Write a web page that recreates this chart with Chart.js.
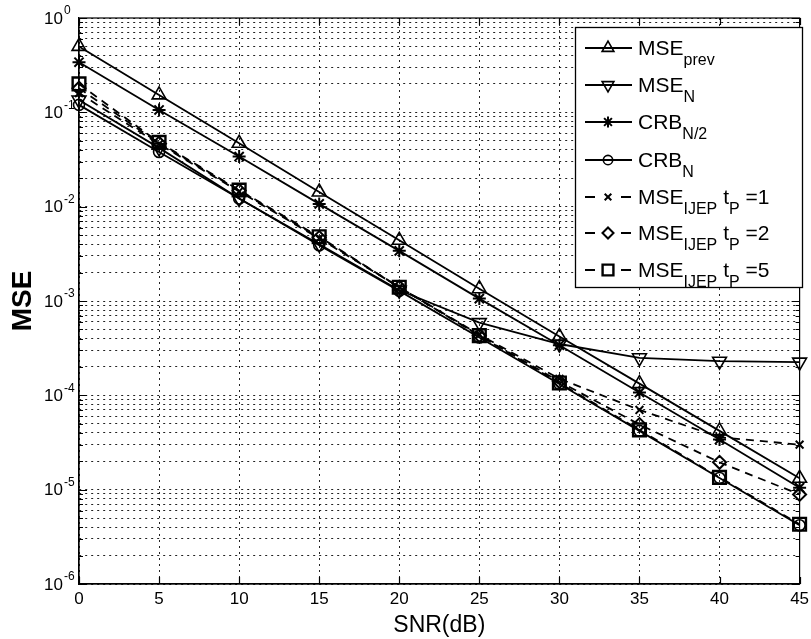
<!DOCTYPE html>
<html>
<head>
<meta charset="utf-8">
<script src="https://cdn.jsdelivr.net/npm/chart.js@4.4.0/dist/chart.umd.min.js"></script>
<style>
  html, body { margin: 0; padding: 0; background: #fff; }
  #wrap { width: 811px; height: 639px; }
</style>
</head>
<body>
<div id="wrap"><canvas id="mseChart" width="811" height="639"></canvas></div>
<script>
'use strict';

// SNR axis (dB)
const snr = [0, 5, 10, 15, 20, 25, 30, 35, 40, 45];

// Series values
const msePrev = [0.5, 0.153, 0.047, 0.0143, 0.0044, 0.00135, 4.2e-4, 1.33e-4, 4.2e-5, 1.32e-5];
const mseN = [0.135, 0.042, 0.0122, 0.0040, 0.0013, 5.9e-4, 3.5e-4, 2.5e-4, 2.3e-4, 2.25e-4];
const crbHalf = [0.34, 0.106, 0.034, 0.0107, 0.0034, 0.00106, 3.4e-4, 1.07e-4, 3.4e-5, 1.05e-5];
const crbN = [0.12, 0.038, 0.0122, 0.0039, 0.00128, 4.1e-4, 1.32e-4, 4.2e-5, 1.33e-5, 4.2e-6];
const ijep1 = [0.16, 0.046, 0.0145, 0.0046, 0.0014, 4.4e-4, 1.5e-4, 7.0e-5, 3.6e-5, 3.0e-5];
const ijep2 = [0.18, 0.047, 0.0148, 0.0047, 0.0014, 4.3e-4, 1.4e-4, 4.9e-5, 1.95e-5, 8.9e-6];
const ijep5 = [0.2, 0.048, 0.015, 0.0048, 0.0014, 4.3e-4, 1.35e-4, 4.3e-5, 1.35e-5, 4.3e-6];

// Tick labels
const xTicks = [0, 5, 10, 15, 20, 25, 30, 35, 40, 45];
const yDecades = [-6, -5, -4, -3, -2, -1, 0];
const yMinor = [2, 3, 4, 5, 6, 7, 8, 9];

const FONT = 'Liberation Sans, Arial, Helvetica, sans-serif';

// Legend rows: text pieces (sub = subscript)
const legendRows = [
  [{t: 'MSE'}, {t: 'prev', sub: true}],
  [{t: 'MSE'}, {t: 'N', sub: true}],
  [{t: 'CRB'}, {t: 'N/2', sub: true}],
  [{t: 'CRB'}, {t: 'N', sub: true}],
  [{t: 'MSE'}, {t: 'IJEP', sub: true}, {t: ' t'}, {t: 'P', sub: true}, {t: ' =1'}],
  [{t: 'MSE'}, {t: 'IJEP', sub: true}, {t: ' t'}, {t: 'P', sub: true}, {t: ' =2'}],
  [{t: 'MSE'}, {t: 'IJEP', sub: true}, {t: ' t'}, {t: 'P', sub: true}, {t: ' =5'}]
];

function series(values, style) {
  return Object.assign({
    data: snr.map((x, i) => ({x: x, y: values[i]})),
    borderColor: '#000',
    borderWidth: 1.8,
    pointBorderColor: '#000',
    pointBackgroundColor: 'rgba(0,0,0,0)',
    pointBorderWidth: 1.6,
    clip: false,
    tension: 0
  }, style);
}

const datasets = [
  series(msePrev, {pointStyle: 'triangle', pointRadius: 8}),
  series(mseN, {pointStyle: 'triangle', pointRotation: 180, pointRadius: 8}),
  series(crbHalf, {pointStyle: 'star', pointRadius: 6.5, pointBorderWidth: 2}),
  series(crbN, {pointStyle: 'circle', pointRadius: 5.5}),
  series(ijep1, {borderDash: [8, 6], pointStyle: 'crossRot', pointRadius: 5.5, pointBorderWidth: 2}),
  series(ijep2, {borderDash: [8, 6], pointStyle: 'rectRot', pointRadius: 6.5, pointBorderWidth: 2}),
  series(ijep5, {borderDash: [8, 6], pointStyle: 'rect', pointRadius: 9, pointBorderWidth: 2.4})
];
// MATLAB draws later series on top
datasets.forEach((d, i) => { d.order = datasets.length - i; });

function drawRichText(ctx, parts, x, y) {
  let cx = x;
  parts.forEach(p => {
    ctx.font = (p.sub ? '16px ' : '21px ') + FONT;
    ctx.fillText(p.t, cx, p.sub ? y + 10 : y);
    cx += ctx.measureText(p.t).width;
  });
}

const decorPlugin = {
  id: 'decor',
  afterDraw: function(chart) {
    const ctx = chart.ctx;
    const area = chart.chartArea;
    const xs = chart.scales.x;
    const ys = chart.scales.y;

    ctx.save();
    ctx.strokeStyle = '#000';
    ctx.lineWidth = 1.2;
    ctx.setLineDash([]);

    // Inner tick marks
    ctx.beginPath();
    ys.ticks.forEach(t => {
      const y = Math.round(ys.getPixelForValue(t.value)) + 0.5;
      const len = t.major ? 8 : 4;
      ctx.moveTo(area.left, y); ctx.lineTo(area.left + len, y);
      ctx.moveTo(area.right, y); ctx.lineTo(area.right - len, y);
    });
    xTicks.forEach(v => {
      const x = Math.round(xs.getPixelForValue(v)) + 0.5;
      ctx.moveTo(x, area.bottom); ctx.lineTo(x, area.bottom - 7);
      ctx.moveTo(x, area.top); ctx.lineTo(x, area.top + 7);
    });
    ctx.stroke();

    // Frame
    ctx.strokeRect(area.left, area.top, area.right - area.left, area.bottom - area.top);

    // Y tick labels 10^k
    ctx.fillStyle = '#000';
    yDecades.forEach(k => {
      const y = ys.getPixelForValue(Math.pow(10, k));
      ctx.font = '17px ' + FONT;
      ctx.textAlign = 'right';
      ctx.textBaseline = 'middle';
      ctx.fillText('10', 63, y + 1);
      ctx.font = '12px ' + FONT;
      ctx.textAlign = 'left';
      ctx.fillText(k === 0 ? '0' : '-' + Math.abs(k), 64, y - 7);
    });

    // Legend box
    const box = {left: 575, top: 27, right: 802, bottom: 287};
    ctx.fillStyle = '#fff';
    ctx.fillRect(box.left, box.top, box.right - box.left, box.bottom - box.top);
    ctx.lineWidth = 1.3;
    ctx.strokeRect(box.left + 0.5, box.top + 0.5, box.right - box.left, box.bottom - box.top);

    const rowY = [48, 85, 122, 160, 197, 233, 270];
    legendRows.forEach((parts, i) => {
      const ds = datasets[i];
      const y = rowY[i];
      ctx.strokeStyle = '#000';
      ctx.lineWidth = 1.8;
      ctx.setLineDash(ds.borderDash ? [10, 26] : []);
      ctx.beginPath();
      ctx.moveTo(585, y); ctx.lineTo(632, y);
      ctx.stroke();
      ctx.setLineDash([]);
      ctx.fillStyle = 'rgba(0,0,0,0)';
      ctx.lineWidth = ds.pointBorderWidth;
      Chart.helpers.drawPoint(ctx, {
        pointStyle: ds.pointStyle,
        rotation: ds.pointRotation || 0,
        radius: ds.pointRadius * 0.85,
        borderWidth: ds.pointBorderWidth
      }, 608, y);
      ctx.fillStyle = '#000';
      ctx.textAlign = 'left';
      ctx.textBaseline = 'alphabetic';
      drawRichText(ctx, parts, 638, y + 7);
    });
    ctx.restore();
  }
};

const gridStyle = {color: '#222', lineWidth: 1, drawTicks: false};

new Chart(document.getElementById('mseChart').getContext('2d'), {
  type: 'line',
  data: {datasets: datasets},
  plugins: [decorPlugin],
  options: {
    responsive: false,
    animation: false,
    layout: {padding: {top: 18, right: 3, left: 0, bottom: 0}},
    plugins: {
      legend: {display: false},
      tooltip: {enabled: false}
    },
    scales: {
      x: {
        type: 'linear',
        min: 0,
        max: 45,
        afterBuildTicks: function(scale) {
          scale.ticks = xTicks.map(v => ({value: v}));
        },
        afterFit: function(scale) {
          scale.height = 55;
          scale.paddingLeft = 0;
          scale.paddingRight = 0;
        },
        grid: gridStyle,
        border: {display: true, color: '#000', width: 1.2, dash: [2, 4]},
        ticks: {
          color: '#000',
          font: {family: FONT, size: 17},
          padding: 5,
          maxRotation: 0,
          autoSkip: false
        },
        title: {
          display: true,
          text: 'SNR(dB)',
          color: '#000',
          font: {family: FONT, size: 23},
          padding: {top: 0, bottom: 0}
        }
      },
      y: {
        type: 'logarithmic',
        min: 1e-6,
        max: 1,
        afterBuildTicks: function(scale) {
          const ticks = [];
          yDecades.forEach(k => {
            ticks.push({value: Math.pow(10, k), major: true});
            if (k < 0) {
              yMinor.forEach(m => ticks.push({value: m * Math.pow(10, k), major: false}));
            }
          });
          scale.ticks = ticks;
        },
        afterFit: function(scale) {
          scale.width = 79;
          scale.paddingTop = 0;
          scale.paddingBottom = 0;
        },
        grid: gridStyle,
        border: {display: true, color: '#000', width: 1.2, dash: [2, 4]},
        ticks: {display: false},
        title: {
          display: true,
          text: 'MSE',
          color: '#000',
          font: {family: FONT, size: 28, weight: 'bold'},
          padding: {top: 6, bottom: 0}
        }
      }
    }
  }
});
</script>
</body>
</html>
